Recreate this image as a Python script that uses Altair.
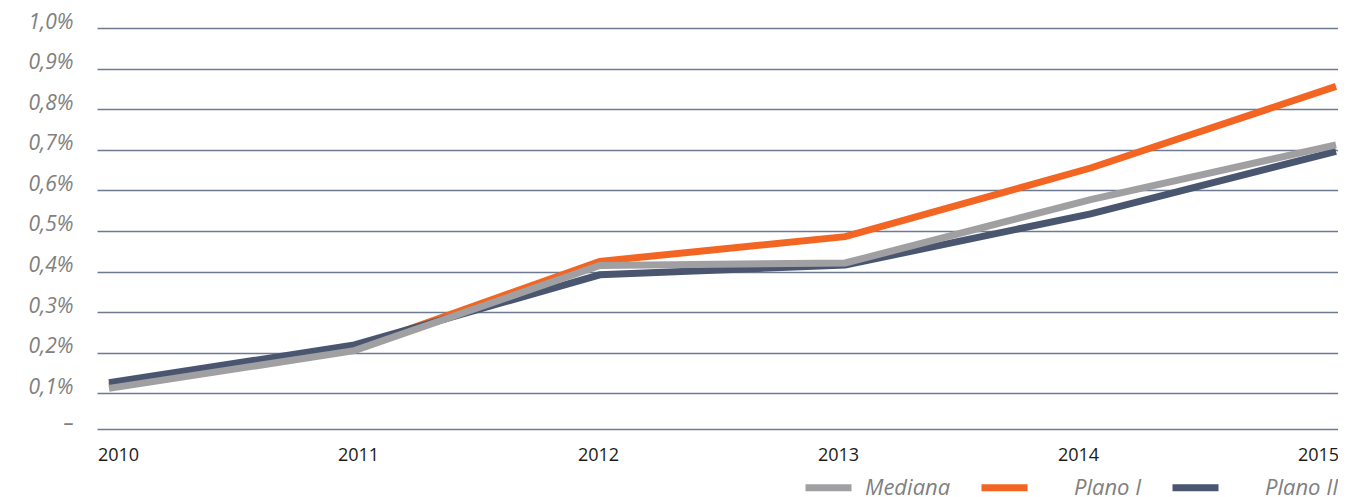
import altair as alt
import pandas as pd

years = [2010, 2011, 2012, 2013, 2014, 2015]
mediana = [0.112, 0.205, 0.415, 0.421, 0.577, 0.712]
plano_1 = [0.118, 0.210, 0.425, 0.486, 0.655, 0.856]
plano_2 = [0.126, 0.219, 0.392, 0.416, 0.542, 0.696]
series_names = ["Mediana", "Plano I", "Plano II"]
series_colors = ["#a0a0a3", "#f26522", "#4a5670"]
y_ticks = [0.012, 0.1, 0.2, 0.3, 0.4, 0.5, 0.6, 0.7, 0.8, 0.9, 1.0]

rows = []
for name, vals in zip(series_names, [mediana, plano_1, plano_2]):
    for yr, v in zip(years, vals):
        rows.append({"year": yr, "value": v, "series": name})
df = pd.DataFrame(rows)
axis_df = pd.DataFrame({"year": years, "value": [0.5] * len(years)})

FONT = "Open Sans"
PAD1 = "\u200b" + "\u2002" * 3
PAD2 = "\u200b" + "\u2002" * 3

y_enc = alt.Y(
    "value:Q",
    scale=alt.Scale(domain=[0.012, 1.0], nice=False, zero=False),
    axis=alt.Axis(
        values=y_ticks,
        labelExpr="datum.value < 0.05 ? '–' : replace(format(datum.value, '.1f'), '.', ',') + '%'",
        grid=True, gridColor="#6e7a91", gridWidth=1.5,
        domain=False, ticks=False, title=None,
        labelFont=FONT, labelFontSize=21, labelFontStyle="italic",
        labelColor="#808080", labelPadding=24, labelBaseline="alphabetic",
    ),
)

color_enc = alt.Color(
    "series:N",
    scale=alt.Scale(domain=series_names, range=series_colors),
    legend=alt.Legend(
        orient="none", legendX=705, legendY=433, direction="horizontal",
        title=None, symbolType="stroke", symbolSize=2116, symbolStrokeWidth=7,
        labelFont=FONT, labelFontSize=22, labelFontStyle="italic",
        labelColor="#808080", labelOffset=10, columnPadding=16,
        labelExpr=(
            "datum.label == 'Plano I' ? '" + PAD1 + "' + datum.label : "
            "datum.label == 'Plano II' ? '" + PAD2 + "' + datum.label : datum.label"
        ),
    ),
)

x_data = alt.X("year:Q", scale=alt.Scale(domain=[2009.9511, 2015.0081], nice=False, zero=False), axis=None)

def series_layer(name):
    return (
        alt.Chart(df)
        .transform_filter(alt.datum.series == name)
        .mark_line(strokeWidth=7, clip=False)
        .encode(x=x_data, y=y_enc, color=color_enc)
    )

lines = alt.layer(series_layer("Plano I"), series_layer("Plano II"), series_layer("Mediana"))

axis_layer = alt.Chart(axis_df).mark_point(opacity=0).encode(
    x=alt.X(
        "year:Q",
        scale=alt.Scale(domain=[2009.9125, 2015.0833], nice=False, zero=False),
        axis=alt.Axis(
            orient="bottom", values=years, format="d", title=None,
            domain=False, ticks=False, grid=False,
            labelFont=FONT, labelFontSize=18, labelColor="#1a1a1a",
            labelPadding=17,
        ),
    ),
    y=y_enc,
)

chart = (
    alt.layer(axis_layer, lines)
    .resolve_scale(x="independent")
    .properties(
        width=1241, height=401,
        autosize=alt.AutoSizeParams(type="none"),
        padding={"left": 89, "top": 20, "right": 0, "bottom": 68},
        background="white",
    )
    .configure_view(stroke=None)
)

chart.save("out.html", embed_options={"renderer": "svg", "actions": False})
